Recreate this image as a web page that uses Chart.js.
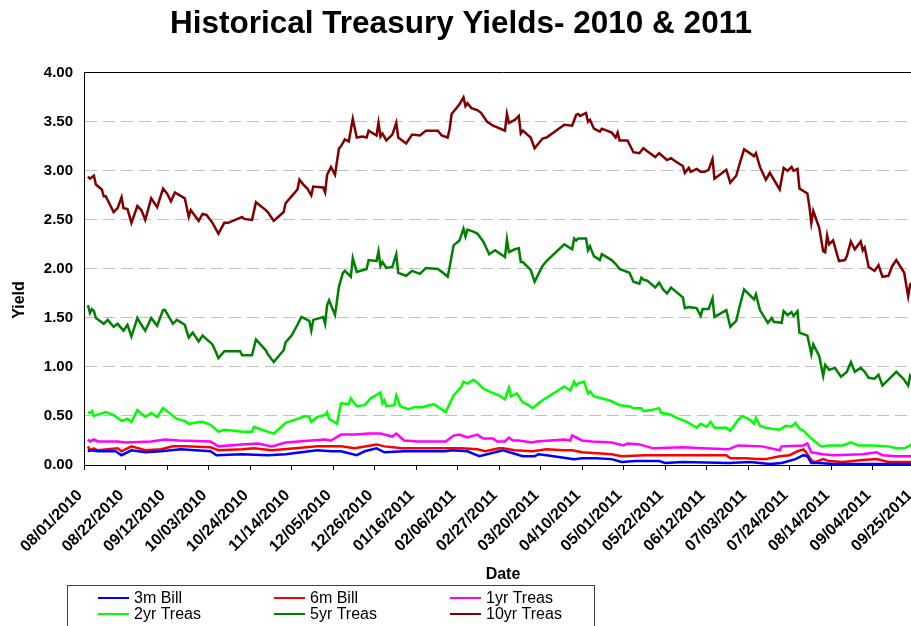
<!DOCTYPE html>
<html>
<head>
<meta charset="utf-8">
<title>Historical Treasury Yields</title>
<script src="https://cdn.jsdelivr.net/npm/chart.js@4.4.0/dist/chart.umd.min.js"></script>
<style>
  html, body { margin: 0; padding: 0; background: #fff; overflow: hidden; }
  #wrap { width: 922px; height: 626px; }
</style>
</head>
<body>
<div id="wrap"><canvas id="yields" width="922" height="626"></canvas></div>
<script>
// x values are days counted from 08/01/2010
const tickLabels = ['08/01/2010', '08/22/2010', '09/12/2010', '10/03/2010', '10/24/2010', '11/14/2010',
    '12/05/2010', '12/26/2010', '01/16/2011', '02/06/2011', '02/27/2011', '03/20/2011', '04/10/2011',
    '05/01/2011', '05/22/2011', '06/12/2011', '07/03/2011', '07/24/2011', '08/14/2011', '09/04/2011', '09/25/2011'];
const lastDay = 424;

const seriesNames = ['3m Bill', '6m Bill', '1yr Treas', '2yr Treas', '5yr Treas', '10yr Treas'];
const seriesColors = ['#0000ff', '#ff0000', '#ff00ff', '#00ff00', '#008000', '#800000'];

const days3m = [2, 3, 7, 16, 19, 24, 31, 39, 49, 64, 67, 80, 93, 102, 118, 125, 130, 138, 142, 148, 152, 162, 183, 186, 194, 200, 210,
    212, 222, 228, 230, 234, 248, 252, 259, 267, 272, 279, 291, 294, 303, 326, 337, 347, 353, 360, 364, 366, 368, 372, 379, 394, 419];
const bill3m = [0.14, 0.15, 0.14, 0.14, 0.10, 0.15, 0.13, 0.14, 0.16, 0.14, 0.10, 0.11, 0.10, 0.11, 0.15, 0.14, 0.14, 0.10, 0.14, 0.17, 0.13, 0.14, 0.14, 0.15, 0.14, 0.09, 0.14,
    0.15, 0.09, 0.09, 0.11, 0.10, 0.06, 0.07, 0.07, 0.06, 0.03, 0.04, 0.04, 0.02, 0.03, 0.02, 0.03, 0.01, 0.02, 0.06, 0.10, 0.09, 0.02, 0.02, 0.01, 0.01, 0.01];

const days6m = [2, 3, 5, 7, 17, 19, 24, 31, 39, 45, 51, 64, 68, 80, 86, 95, 107, 118, 125, 130, 137, 148, 152, 161, 183, 191, 199, 203, 210,
    212, 218, 227, 234, 243, 247, 252, 267, 272, 284, 296, 310, 325, 327, 335, 340, 345, 352, 357, 361, 364, 365, 368, 370, 374, 377, 384, 394, 401, 407, 419];
const bill6m = [0.19, 0.15, 0.17, 0.15, 0.17, 0.14, 0.19, 0.15, 0.16, 0.19, 0.19, 0.18, 0.15, 0.16, 0.17, 0.15, 0.17, 0.19, 0.19, 0.19, 0.17, 0.21, 0.19, 0.17, 0.17, 0.17, 0.16, 0.14, 0.17,
    0.17, 0.15, 0.14, 0.16, 0.15, 0.15, 0.13, 0.11, 0.09, 0.10, 0.10, 0.10, 0.10, 0.07, 0.07, 0.06, 0.06, 0.09, 0.10, 0.14, 0.16, 0.14, 0.05, 0.03, 0.06, 0.04, 0.03, 0.05, 0.06, 0.03, 0.03];

const days1yr = [2, 3, 5, 7, 17, 21, 34, 41, 48, 64, 68, 80, 88, 95, 102, 115, 122, 125, 130, 137, 144, 150, 156, 158, 162, 169, 183, 187, 190, 194, 199, 202, 207, 209,
    213, 215, 217, 220, 227, 229, 243, 246, 247, 252, 257, 267, 273, 275, 281, 288, 303, 313, 326, 331, 343, 352, 353, 364, 366, 368, 374, 379, 394, 401, 404, 411, 419];
const treas1yr = [0.26, 0.24, 0.26, 0.24, 0.24, 0.23, 0.24, 0.26, 0.25, 0.24, 0.19, 0.21, 0.22, 0.19, 0.23, 0.25, 0.26, 0.25, 0.31, 0.31, 0.32, 0.32, 0.29, 0.32, 0.25, 0.24, 0.24, 0.30, 0.31, 0.28, 0.31, 0.27, 0.27, 0.24,
    0.24, 0.28, 0.25, 0.25, 0.23, 0.24, 0.26, 0.25, 0.30, 0.25, 0.24, 0.23, 0.20, 0.22, 0.21, 0.17, 0.18, 0.17, 0.16, 0.20, 0.19, 0.15, 0.19, 0.20, 0.22, 0.13, 0.11, 0.10, 0.11, 0.13, 0.10, 0.09, 0.09];

const days2yr = [2, 3, 4, 5, 11, 15, 19, 22, 24, 27, 31, 34, 37, 40, 47, 51, 53, 56, 60, 64, 68, 71, 76, 80, 85, 86, 90, 96,
    102, 108, 112, 114, 115, 118, 122, 123, 124, 128, 130, 134, 135, 138, 142, 145, 150, 151, 152, 153, 157, 158, 160, 164, 167, 171, 177,
    183, 187, 191, 192, 194, 197, 199, 202, 205, 210, 213, 215, 216, 219, 222, 225, 227, 230, 232, 243, 246, 248, 249, 250, 253, 255, 256,
    258, 262, 267, 271, 276, 278, 282, 283, 287, 291, 292, 296, 300, 305, 310, 312, 315, 317, 319, 325, 327, 331, 333, 337, 339, 340, 342,
    345, 348, 352, 355, 358, 360, 362, 364, 368, 373, 377, 384, 388, 392, 399, 407, 411, 415, 418, 419];
const treas2yr = [0.54, 0.53, 0.55, 0.50, 0.54, 0.51, 0.45, 0.47, 0.44, 0.56, 0.49, 0.53, 0.49, 0.58, 0.47, 0.45, 0.42, 0.43, 0.44, 0.41, 0.34, 0.36, 0.35, 0.34, 0.34, 0.39, 0.36, 0.32,
    0.43, 0.47, 0.50, 0.49, 0.44, 0.49, 0.51, 0.54, 0.47, 0.42, 0.63, 0.62, 0.68, 0.60, 0.61, 0.68, 0.74, 0.63, 0.66, 0.60, 0.61, 0.71, 0.60, 0.57, 0.59, 0.59, 0.62,
    0.54, 0.71, 0.80, 0.85, 0.83, 0.87, 0.84, 0.78, 0.75, 0.71, 0.67, 0.79, 0.70, 0.73, 0.64, 0.61, 0.58, 0.63, 0.66, 0.80, 0.76, 0.85, 0.81, 0.83, 0.85, 0.73, 0.75,
    0.70, 0.68, 0.65, 0.61, 0.60, 0.58, 0.58, 0.55, 0.56, 0.58, 0.53, 0.52, 0.48, 0.44, 0.38, 0.42, 0.39, 0.44, 0.38, 0.38, 0.35, 0.46, 0.50, 0.46, 0.42, 0.48, 0.40,
    0.38, 0.37, 0.36, 0.40, 0.39, 0.43, 0.37, 0.35, 0.27, 0.19, 0.20, 0.20, 0.23, 0.20, 0.20, 0.19, 0.17, 0.17, 0.20, 0.22];

const days5yr = [2, 3, 4, 5, 6, 10, 12, 15, 17, 20, 22, 24, 27, 29, 31, 34, 37, 40, 41, 45, 47, 51, 53, 55, 58, 60, 65, 67, 68, 71, 73, 79, 80, 85, 87, 92, 93, 96, 101, 102,
    105, 108, 110, 112, 114, 115, 116, 121, 122, 123, 124, 127, 129, 131, 132, 135, 136, 138, 143, 144, 148, 149, 150, 151, 153, 156, 158, 159, 163, 166, 170, 173,
    179, 181, 184, 185, 187, 190, 192, 193, 194, 197, 199, 202, 205, 208,
    213, 214, 215, 218, 220, 221, 222, 226, 228, 232, 234, 243, 247, 248, 249, 250, 254, 255, 256, 258, 261, 262, 267, 269, 271, 276, 278, 281, 282, 283, 285,
    289, 291, 293, 295, 297, 303, 304, 306, 310, 312, 313,
    316, 318, 319, 325, 327, 330, 332, 334, 339, 340, 342, 346, 348, 349, 353, 354, 356, 358, 359, 361, 362, 366, 367, 368, 369, 372, 374, 375, 377, 380, 383,
    386, 388, 390, 393, 395, 397, 400, 402, 404, 411, 415, 417, 418, 419];
const treas5yr = [1.63, 1.55, 1.59, 1.57, 1.50, 1.44, 1.48, 1.41, 1.44, 1.37, 1.43, 1.31, 1.50, 1.43, 1.37, 1.50, 1.42, 1.58, 1.58, 1.44, 1.48, 1.43, 1.30, 1.35, 1.26, 1.32, 1.23, 1.14, 1.09, 1.16, 1.16, 1.16, 1.12, 1.12, 1.28, 1.17, 1.13, 1.05, 1.17, 1.25,
    1.32, 1.43, 1.51, 1.49, 1.47, 1.37, 1.48, 1.51, 1.44, 1.63, 1.68, 1.53, 1.82, 1.96, 1.98, 1.92, 2.11, 1.97, 2.00, 2.09, 2.08, 2.18, 2.03, 2.07, 2.01, 2.02, 2.15, 1.96, 1.93, 1.98, 1.95, 2.01,
    2.00, 1.97, 1.92, 2.02, 2.24, 2.29, 2.41, 2.33, 2.40, 2.38, 2.36, 2.28, 2.15, 2.19,
    2.12, 2.30, 2.17, 2.20, 2.21, 2.07, 2.07, 1.99, 1.87, 2.03, 2.08, 2.25, 2.20, 2.31, 2.29, 2.31, 2.31, 2.19, 2.23, 2.13, 2.09, 2.15, 2.09, 2.05, 2.00, 1.96, 1.87, 1.85, 1.91, 1.89, 1.88,
    1.81, 1.86, 1.79, 1.75, 1.81, 1.71, 1.60, 1.61, 1.60, 1.52, 1.59,
    1.59, 1.70, 1.51, 1.58, 1.41, 1.47, 1.64, 1.79, 1.69, 1.74, 1.58, 1.45, 1.50, 1.46, 1.45, 1.57, 1.53, 1.56, 1.52, 1.57, 1.35, 1.32, 1.23, 1.13, 1.23, 1.11, 0.91, 1.02, 0.97, 0.99, 0.90,
    0.95, 1.05, 0.95, 0.99, 0.95, 0.89, 0.88, 0.92, 0.81, 0.95, 0.87, 0.81, 0.91, 0.88];

const days10yr = [2, 3, 5, 6, 9, 10, 11, 12, 15, 17, 19, 20, 22, 24, 27, 29, 31, 34, 37, 40, 42, 44, 46, 51, 53, 54, 58, 60, 62, 65, 68, 71, 73, 80, 81, 85, 87, 92, 93, 96, 101, 102,
    105, 108, 109, 111, 113, 115, 116, 121, 122, 123, 125, 127, 129, 130, 132, 134, 136, 138, 141, 143, 144, 148, 149, 150, 151, 153, 156, 158, 159, 163, 166, 170, 173,
    179, 181, 184, 185, 186, 190, 192, 193, 194, 196, 199, 201, 204, 207,
    213, 214, 215, 218, 220, 221, 222, 226, 228, 232, 234, 243, 247, 249, 250, 251, 254, 255, 256, 258, 261, 262, 267, 269, 270, 271, 275, 278, 281, 283, 285,
    289, 291, 295, 297, 299, 303, 304, 306, 307, 310, 312, 314,
    316, 318, 319, 325, 327, 330, 332, 334, 339, 340, 342, 345, 347, 352, 354, 356, 358, 359, 361, 362, 366, 367, 368, 369, 372, 374, 375, 376, 377, 379,
    382, 385, 386, 388, 390, 393, 394, 395, 397, 400, 402, 404, 407, 409, 411, 415, 417, 418, 419];
const treas10yr = [2.94, 2.92, 2.95, 2.86, 2.81, 2.74, 2.74, 2.70, 2.58, 2.62, 2.73, 2.62, 2.61, 2.47, 2.64, 2.60, 2.50, 2.72, 2.63, 2.82, 2.77, 2.69, 2.78, 2.72, 2.53, 2.60, 2.49, 2.56, 2.55, 2.47, 2.36, 2.47, 2.47, 2.53, 2.51, 2.50, 2.68, 2.60, 2.58, 2.49, 2.58, 2.67,
    2.74, 2.81, 2.91, 2.86, 2.82, 2.75, 2.84, 2.83, 2.78, 2.96, 3.04, 2.96, 3.23, 3.25, 3.32, 3.30, 3.53, 3.34, 3.35, 3.34, 3.41, 3.36, 3.49, 3.35, 3.38, 3.31, 3.37, 3.49, 3.34, 3.28, 3.37, 3.36, 3.41,
    3.41, 3.36, 3.34, 3.43, 3.58, 3.68, 3.75, 3.66, 3.69, 3.64, 3.62, 3.59, 3.50, 3.46,
    3.41, 3.58, 3.49, 3.52, 3.56, 3.38, 3.41, 3.34, 3.23, 3.33, 3.34, 3.47, 3.46, 3.57, 3.58, 3.56, 3.59, 3.50, 3.52, 3.43, 3.40, 3.43, 3.39, 3.34, 3.39, 3.31, 3.31, 3.19, 3.18, 3.23, 3.20,
    3.14, 3.18, 3.11, 3.13, 3.10, 3.05, 2.98, 3.03, 2.99, 3.02, 2.99, 2.99,
    3.01, 3.12, 2.92, 3.01, 2.88, 2.95, 3.09, 3.22, 3.15, 3.18, 3.04, 2.91, 2.98, 2.81, 3.03, 3.00, 3.04, 3.00, 3.02, 2.82, 2.77, 2.64, 2.47, 2.59, 2.42, 2.18, 2.17, 2.34, 2.25, 2.29,
    2.08, 2.09, 2.13, 2.28, 2.20, 2.28, 2.19, 2.22, 2.02, 1.98, 2.04, 1.92, 1.93, 2.03, 2.09, 1.96, 1.72, 1.84, 1.86];

const seriesDays = [days3m, days6m, days1yr, days2yr, days5yr, days10yr];
const seriesValues = [bill3m, bill6m, treas1yr, treas2yr, treas5yr, treas10yr];

const FONT = '"Liberation Sans", Arial, sans-serif';
const dayZero = Date.UTC(2010, 7, 1);

function toDay(label) {
    const [m, d, y] = label.split('/').map(Number);
    return Math.round((Date.UTC(y, m - 1, d) - dayZero) / 86400000);
}

const tickDays = tickLabels.map(toDay);

// y axis caption (sits a little below the middle of the axis) and the boxed legend
const chartExtras = {
    id: 'chartExtras',
    afterDraw(chart) {
        const ctx = chart.ctx;
        ctx.save();

        ctx.fillStyle = '#000';
        ctx.font = 'bold 16px ' + FONT;
        ctx.textAlign = 'center';
        ctx.textBaseline = 'middle';
        ctx.translate(20, 300);
        ctx.rotate(-Math.PI / 2);
        ctx.fillText('Yield', 0, 0);
        ctx.setTransform(1, 0, 0, 1, 0, 0);

        ctx.strokeStyle = '#404040';
        ctx.lineWidth = 1;
        ctx.strokeRect(67.5, 585.5, 527, 60);
        ctx.font = '16px ' + FONT;
        ctx.textAlign = 'left';
        chart.data.datasets.forEach((ds, i) => {
            const x = 98 + (i % 3) * 176;
            const y = 598 + Math.floor(i / 3) * 16;
            ctx.strokeStyle = ds.borderColor;
            ctx.lineWidth = 2;
            ctx.beginPath();
            ctx.moveTo(x, y);
            ctx.lineTo(x + 31, y);
            ctx.stroke();
            ctx.fillStyle = '#000';
            ctx.fillText(ds.label, x + 36, y + 1);
        });
        ctx.restore();
    }
};

const datasets = seriesNames.map((name, i) => ({
    label: name,
    data: seriesDays[i].map((d, j) => ({ x: d, y: seriesValues[i][j] })),
    borderColor: seriesColors[i],
    backgroundColor: seriesColors[i],
    borderWidth: 2.5,
    pointRadius: 0,
    tension: 0,
    fill: false
}));

new Chart(document.getElementById('yields'), {
    type: 'line',
    data: { datasets: datasets },
    options: {
        responsive: false,
        animation: false,
        layout: { padding: { left: 0, right: 0, top: 0, bottom: 36 } },
        plugins: {
            legend: { display: false },
            tooltip: { enabled: false },
            title: {
                display: true,
                text: 'Historical Treasury Yields- 2010 & 2011',
                color: '#000',
                font: { family: FONT, size: 31.5, weight: 'bold' },
                padding: { top: 5, bottom: 30 }
            }
        },
        scales: {
            x: {
                type: 'linear',
                min: 0,
                max: lastDay,
                afterBuildTicks: (scale) => {
                    scale.ticks = tickDays.map(v => ({ value: v }));
                },
                afterFit: (scale) => {
                    scale.height = 125;
                    scale.paddingLeft = 0;
                    scale.paddingRight = 0;
                },
                ticks: {
                    autoSkip: false,
                    minRotation: 45,
                    maxRotation: 45,
                    padding: 16,
                    labelOffset: -4,
                    color: '#000',
                    font: { family: FONT, size: 16, weight: 'bold' },
                    callback: (value) => tickLabels[tickDays.indexOf(value)]
                },
                grid: {
                    drawOnChartArea: false,
                    drawTicks: true,
                    tickLength: 5,
                    tickColor: '#000'
                },
                border: { color: '#000', width: 1 },
                title: {
                    display: true,
                    text: 'Date',
                    color: '#000',
                    font: { family: FONT, size: 16, weight: 'bold' },
                    padding: { top: 0, bottom: 6 }
                }
            },
            y: {
                min: 0,
                max: 4,
                afterFit: (scale) => {
                    scale.width = 84;
                },
                ticks: {
                    stepSize: 0.5,
                    padding: 11,
                    color: '#000',
                    font: { family: FONT, size: 15, weight: 'bold' },
                    callback: (value) => value.toFixed(2)
                },
                grid: {
                    drawTicks: false,
                    lineWidth: 1,
                    color: (ctx) => {
                        if (!ctx.tick) return '#c0c0c0';
                        if (ctx.tick.value === 0) return 'rgba(0,0,0,0)';
                        if (ctx.tick.value === 4) return '#000';
                        return '#c0c0c0';
                    }
                },
                border: {
                    color: '#000',
                    width: 1,
                    dash: (ctx) => (ctx.tick && ctx.tick.value === 4) ? [] : [12, 6]
                }
            }
        }
    },
    plugins: [chartExtras]
});
</script>
</body>
</html>
